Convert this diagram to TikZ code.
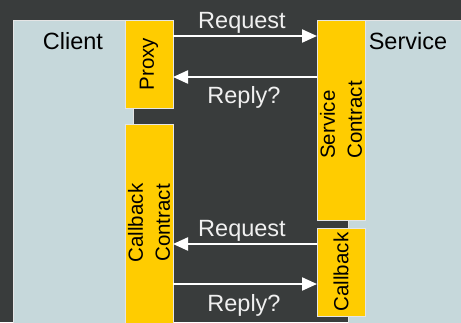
\documentclass[tikz,border=0pt]{standalone}
\usepackage{fontspec}
\setmainfont{Liberation Sans}
\usepackage{xcolor}
\definecolor{slate}{RGB}{57,60,60}
\definecolor{pale}{RGB}{198,216,219}
\definecolor{amber}{RGB}{255,204,0}
\usetikzlibrary{arrows.meta,positioning,calc}
\tikzset{
  host/.style={draw=gray!20,fill=pale,line width=0.6pt,inner sep=0pt,%
    outer sep=0pt,anchor=north west,minimum width=120pt,minimum height=310pt},
  stub/.style={draw=gray!20,fill=amber,line width=0.6pt,inner sep=0pt,%
    outer sep=0pt,anchor=north west,minimum width=48pt},
  hostlabel/.style={font=\fontsize{23.5}{28}\selectfont,anchor=base},
  stublabel/.style={font=\fontsize{20.5}{27}\selectfont,rotate=90,inner sep=0pt},
  msg/.style={draw=white,line width=2.2pt,-{Triangle[length=15pt,width=13pt]}},
  msglabel/.style={font=\fontsize{23.5}{28}\selectfont,text=white!94!black,anchor=base},
}

\begin{document}
\begin{tikzpicture}[x=1pt,y=-1pt]
\fill[slate] (0,0) rectangle (461,322);
\useasboundingbox (0,0) rectangle (461,322);
% the two sides
\node[host] (client) at (13,20) {};
\node[host] (service) at (348,20) {};
\node[hostlabel] at ([yshift=-29pt]client.north) {Client};
\node[hostlabel] at ([yshift=-29pt]service.north) {Service};
% stubs and contracts
\node[stub,minimum height=88pt] (proxy) at (125,20) {};
\node[stub,minimum height=206pt] (cbcontract) at (125,124) {};
\node[stub,minimum height=200pt] (svccontract) at (317,20) {};
\node[stub,minimum height=88pt] (callback) at (317,228) {};
\node[stublabel] at (proxy) {Proxy};
\node[stublabel,align=center] at (cbcontract.center |- 0,223) {Callback\\Contract};
\node[stublabel,align=left] at (svccontract) {Service\\Contract};
\node[stublabel] at (callback) {Callback};
% calls
\draw[msg] ([yshift=28pt]proxy.east) -- ([yshift=28pt]proxy.east -| svccontract.west)
  node[msglabel,midway,xshift=-3pt,yshift=8pt] {Request};
\draw[msg] ([yshift=-13pt]proxy.east -| svccontract.west) -- ([yshift=-13pt]proxy.east)
  node[msglabel,midway,xshift=-1pt,yshift=-26pt] {Reply?};
\draw[msg] ([yshift=28pt]callback.west) -- ([yshift=28pt]callback.west -| cbcontract.east)
  node[msglabel,midway,xshift=-3pt,yshift=8pt] {Request};
\draw[msg] ([yshift=-12pt]callback.west -| cbcontract.east) -- ([yshift=-12pt]callback.west)
  node[msglabel,midway,xshift=-1pt,yshift=-27pt] {Reply?};
\end{tikzpicture}
\end{document}
